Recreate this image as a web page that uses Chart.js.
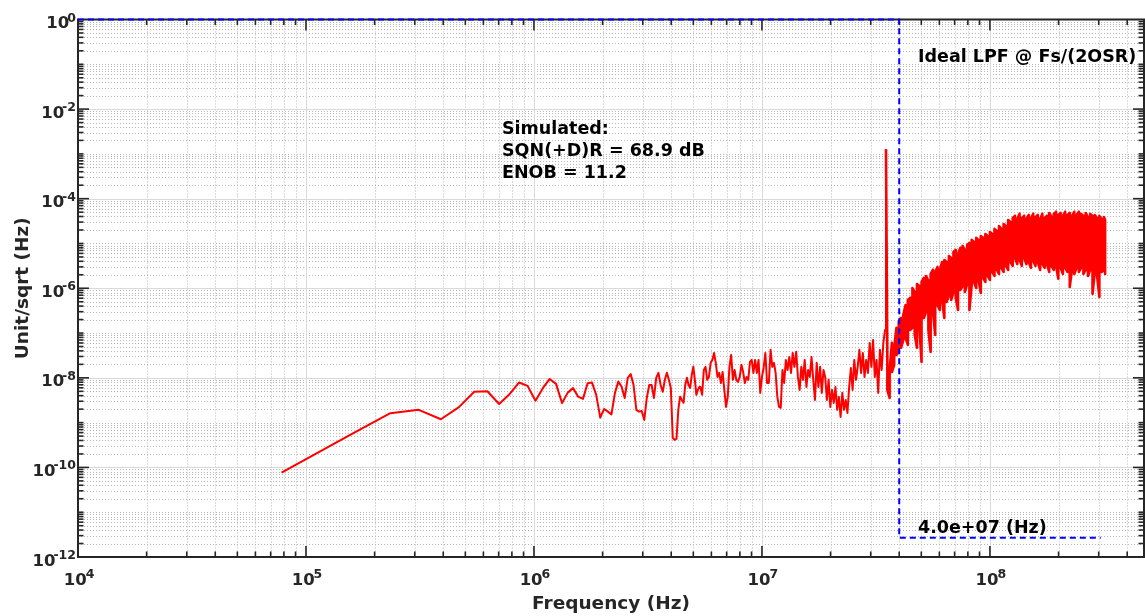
<!DOCTYPE html>
<html>
<head>
<meta charset="utf-8">
<title>Output spectrum</title>
<script src="https://cdn.jsdelivr.net/npm/chart.js@4.4.1/dist/chart.umd.min.js"></script>
<style>
  html, body { margin: 0; padding: 0; background: #fff; }
  canvas { display: block; }
</style>
</head>
<body>
<canvas id="psd" width="1145" height="616"></canvas>
<script>
// FFT bin spacing of the simulated output (Hz)
const binHz = 78125;

// first bins, one value per bin (dB re 1 Unit/sqrt(Hz))
const lowBins = [1, 2, 3, 4, 5, 6, 7, 8, 9, 10, 11, 12, 13, 14, 15, 16, 17, 18, 19, 20,
  21, 22, 23, 24, 25, 26, 27, 28, 29, 30, 31, 32, 33, 34, 35, 36, 37, 38, 39, 40,
  41, 42, 43, 44, 45, 46, 47, 48, 49, 50, 51, 52, 53, 54, 55, 56, 57, 58, 59, 60,
  61, 62, 63, 64, 65, 66, 67, 68];
const lowDb = [-202.3, -185.5, -175.8, -174.3, -178.5, -173.1, -166.2, -166.0, -171.7, -167.3,
  -162.1, -163.6, -170.2, -164.6, -160.5, -162.7, -171.3, -166.6, -164.6, -168.4,
  -169.4, -162.4, -162.1, -167.6, -177.8, -173.9, -175.1, -176.3, -166.7, -161.7,
  -163.9, -169.0, -160.0, -158.3, -163.2, -174.3, -175.1, -174.8, -178.8, -169.0,
  -163.2, -163.2, -169.0, -160.0, -157.8, -163.2, -166.2, -160.9, -157.7, -160.9,
  -164.5, -186.8, -187.7, -187.3, -174.3, -168.4, -169.9, -171.1, -163.2, -160.0,
  -163.2, -164.5, -158.7, -155.0, -160.9, -167.6, -165.4, -164.1];

// in-band noise from 5.4 MHz up to the tone
const midFreqMHz = [5.370, 5.464, 5.559, 5.656, 5.754, 5.854, 5.956, 6.060,
  6.166, 6.273, 6.383, 6.494, 6.607, 6.722, 6.839, 6.958,
  7.079, 7.202, 7.328, 7.455, 7.586, 7.718, 7.852, 7.989,
  8.128, 8.270, 8.414, 8.560, 8.710, 8.862, 9.016, 9.173,
  9.333, 9.496, 9.661, 9.829, 10.00, 10.17, 10.35, 10.53,
  10.72, 10.91, 11.10, 11.29, 11.48, 11.68, 11.88, 12.09,
  12.30, 12.51, 12.73, 12.95, 13.18, 13.41, 13.64, 13.88,
  14.13, 14.38, 14.63, 14.88, 15.14, 15.40, 15.67, 15.94,
  16.22, 16.50, 16.79, 17.08, 17.38, 17.68, 17.99, 18.30,
  18.62, 18.94, 19.27, 19.61, 19.95, 20.30, 20.65, 21.01,
  21.38, 21.75, 22.13, 22.52, 22.91, 23.31, 23.71, 24.13,
  24.55, 24.98, 25.41, 25.86, 26.30, 26.76, 27.22, 27.70,
  28.18, 28.67, 29.17, 29.68, 30.20, 30.73, 31.26, 31.81,
  32.36, 32.92, 33.50, 34.08, 34.67];
const midDb = [-164.1, -167.6, -156.5, -155.1, -160.9, -159.6, -153.3, -152.0,
  -148.9, -153.3, -159.6, -157.8, -162.3, -157.4, -165.4, -173.0,
  -168.5, -155.1, -149.8, -160.9, -156.5, -160.9, -161.8, -159.6,
  -154.2, -157.4, -162.3, -159.6, -160.9, -152.9, -152.0, -157.8,
  -152.0, -157.8, -152.0, -166.7, -159.6, -155.6, -148.9, -162.3,
  -162.3, -147.5, -155.1, -153.3, -157.8, -168.5, -173.0, -173.4,
  -156.5, -162.3, -152.0, -156.5, -150.7, -157.8, -148.9, -155.1,
  -148.4, -159.6, -165.4, -155.1, -160.9, -152.0, -164.1, -156.5,
  -159.6, -150.7, -160.9, -169.9, -153.3, -164.1, -155.1, -166.7,
  -156.5, -159.6, -169.9, -160.9, -173.0, -165.4, -171.2, -164.1,
  -174.3, -168.5, -177.5, -166.7, -174.3, -169.9, -175.7, -164.1,
  -155.6, -165.4, -152.0, -160.9, -155.1, -147.5, -157.8, -148.9,
  -159.6, -152.0, -157.8, -144.4, -155.1, -143.1, -159.6, -152.0,
  -166.7, -147.5, -156.5, -144.4, -138.6];

// test tone
const toneFreqMHz = 35.0;
const toneDb = -57.9;

// shaped noise above the tone: top and bottom of the trace at each frequency
const hfFreqMHz = [35.48, 36.31, 37.15, 38.02, 38.90, 39.81, 40.74, 41.69, 42.66, 43.65,
  44.67, 45.71, 46.77, 47.86, 48.98, 50.12, 51.29, 52.48, 53.70, 54.95,
  56.23, 57.54, 58.88, 60.26, 61.66, 63.10, 64.57, 66.07, 67.61, 69.18,
  70.79, 72.44, 74.13, 75.86, 77.62, 79.43, 81.28, 83.18, 85.11, 87.10,
  89.13, 91.20, 93.33, 95.50, 97.72, 100.0, 102.3, 104.7, 107.2, 109.6,
  112.2, 114.8, 117.5, 120.2, 123.0, 125.9, 128.8, 131.8, 134.9, 138.0,
  141.3, 144.5, 147.9, 151.4, 154.9, 158.5, 162.2, 166.0, 169.8, 173.8,
  177.8, 182.0, 186.2, 190.5, 195.0, 199.5, 204.2, 208.9, 213.8, 218.8,
  223.9, 229.1, 234.4, 239.9, 245.5, 251.2, 257.0, 263.0, 269.2, 275.4,
  281.8, 288.4, 295.1, 302.0, 309.0, 316.2, 320.0];
const hfHighDb = [-152.0, -156.5, -144.4, -146.6, -137.7, -135.0, -133.3, -131.9, -127.5, -125.2,
  -124.3, -119.9, -121.7, -118.1, -119.0, -117.2, -115.4, -114.5, -116.7, -113.6,
  -111.8, -112.7, -110.5, -111.8, -108.3, -107.4, -108.3, -105.6, -106.5, -103.8,
  -102.9, -104.7, -102.0, -101.1, -102.9, -100.7, -99.8, -98.4, -99.3, -97.5,
  -98.4, -96.7, -97.5, -95.8, -96.7, -94.9, -95.8, -93.5, -94.4, -92.2,
  -93.5, -91.3, -92.2, -89.5, -90.4, -88.6, -87.7, -89.1, -86.8, -88.6,
  -87.7, -89.1, -87.3, -88.6, -86.8, -88.2, -87.3, -89.1, -86.8, -88.6,
  -87.7, -86.4, -88.2, -86.8, -85.9, -87.3, -86.4, -87.7, -85.9, -87.3,
  -86.4, -87.7, -85.9, -87.3, -85.9, -86.8, -87.7, -86.4, -88.2, -86.8,
  -87.7, -87.3, -88.6, -87.7, -89.1, -88.2, -89.5];
const hfLowDb = [-165.4, -169.0, -157.4, -154.2, -149.8, -148.4, -146.6, -143.1, -142.2, -145.3,
  -138.6, -137.7, -140.8, -146.6, -136.4, -152.9, -133.3, -130.6, -138.6, -148.4,
  -130.6, -140.8, -127.5, -129.7, -125.2, -133.3, -126.1, -123.4, -125.2, -121.7,
  -124.3, -129.7, -120.8, -119.0, -121.7, -118.1, -129.7, -118.5, -117.2, -119.9,
  -116.3, -122.1, -115.4, -117.2, -114.5, -116.3, -112.7, -114.5, -111.8, -113.6,
  -110.9, -112.7, -110.0, -111.8, -108.3, -110.0, -106.5, -109.2, -107.4, -110.0,
  -106.5, -109.2, -108.3, -110.9, -107.8, -110.0, -108.3, -111.8, -109.2, -110.9,
  -109.2, -112.7, -110.0, -111.8, -110.0, -115.8, -110.9, -113.6, -110.9, -112.7,
  -119.4, -111.8, -113.6, -110.9, -112.7, -110.9, -113.6, -111.8, -114.5, -111.8,
  -122.5, -112.7, -114.5, -123.9, -112.7, -111.8, -113.6];

// ideal low-pass brick wall at Fs/(2OSR)
const lpfFreq = [1e4, 4e7, 4e7, 3.06e8];
const lpfMag = [1, 1, 2.7e-12, 2.7e-12];

// decades that carry a tick label
const xLabelExps = [4, 5, 6, 7, 8];
const yLabelExps = [0, -2, -4, -6, -8, -10, -12];

const fromDb = db => Math.pow(10, db / 20);

let spectrum = [];
lowBins.forEach((k, i) => spectrum.push({ x: k * binHz, y: fromDb(lowDb[i]) }));
midFreqMHz.forEach((f, i) => spectrum.push({ x: f * 1e6, y: fromDb(midDb[i]) }));
let tone = { x: toneFreqMHz * 1e6, y: fromDb(toneDb) };
spectrum.push(tone);

// walk top/bottom alternately so the dense part is one continuous trace
let hfTrace = [tone];
hfFreqMHz.forEach((f, i) => {
  let pair = [hfHighDb[i], hfLowDb[i]];
  if (i % 2) pair.reverse();
  pair.forEach(db => hfTrace.push({ x: f * 1e6, y: fromDb(db) }));
});

let lpf = lpfFreq.map((f, i) => ({ x: f, y: lpfMag[i] }));

const FONT = '"DejaVu Sans", Verdana, sans-serif';
const AXIS_COLOR = '#262626';

function seg(ctx, x1, y1, x2, y2) {
  ctx.beginPath();
  ctx.moveTo(x1, y1);
  ctx.lineTo(x2, y2);
  ctx.stroke();
}
const snap = v => Math.round(v) + 0.5;

// matlab-like box: dotted minor grid, solid major grid, inward ticks on all sides
const frame = {
  id: 'frame',
  beforeDatasetsDraw(chart) {
    const { ctx, chartArea: a, scales: { x, y } } = chart;
    let xMinor = [], xMajor = [], yMinor = [], yMajor = [];
    for (let e = 4; e <= 8; e++) {
      if (e > 4) xMajor.push(x.getPixelForValue(Math.pow(10, e)));
      for (let m = 2; m <= 9; m++) {
        if (m * Math.pow(10, e) < x.max) xMinor.push(x.getPixelForValue(m * Math.pow(10, e)));
      }
    }
    for (let e = -12; e < 0; e++) {
      if (e > -12) (e % 2 === 0 ? yMajor : yMinor).push(y.getPixelForValue(Math.pow(10, e)));
      for (let m = 2; m <= 9; m++) yMinor.push(y.getPixelForValue(m * Math.pow(10, e)));
    }

    ctx.save();
    ctx.lineWidth = 1;
    ctx.strokeStyle = '#b8b8b8';
    ctx.setLineDash([1, 2]);
    xMinor.forEach(px => seg(ctx, snap(px), a.top, snap(px), a.bottom));
    yMinor.forEach(py => seg(ctx, a.left, snap(py), a.right, snap(py)));
    ctx.setLineDash([]);
    ctx.strokeStyle = '#d9d9d9';
    xMajor.forEach(px => seg(ctx, snap(px), a.top, snap(px), a.bottom));
    yMajor.forEach(py => seg(ctx, a.left, snap(py), a.right, snap(py)));

    ctx.strokeStyle = AXIS_COLOR;
    ctx.lineWidth = 1.6;
    const tick = (list, len, vertical) => list.forEach(p => {
      if (vertical) {
        seg(ctx, p, a.bottom, p, a.bottom - len);
        seg(ctx, p, a.top, p, a.top + len);
      } else {
        seg(ctx, a.left, p, a.left + len, p);
        seg(ctx, a.right, p, a.right - len, p);
      }
    });
    tick(xMinor, 5.5, true);
    tick(xMajor, 11, true);
    tick(yMinor, 5.5, false);
    tick(yMajor, 11, false);
    ctx.lineWidth = 2;
    ctx.strokeRect(a.left, a.top, a.right - a.left, a.bottom - a.top);
    ctx.restore();
  },
  afterDraw(chart) {
    const { ctx, chartArea: a, scales: { x, y } } = chart;
    const baseFont = 'bold 16.5px ' + FONT;
    const expFont = 'bold 12.5px ' + FONT;
    ctx.save();
    ctx.fillStyle = AXIS_COLOR;
    ctx.textAlign = 'left';
    ctx.textBaseline = 'alphabetic';

    xLabelExps.forEach(e => {
      const px = x.getPixelForValue(Math.pow(10, e));
      ctx.font = baseFont;
      const wb = ctx.measureText('10').width;
      ctx.font = expFont;
      const we = ctx.measureText(String(e)).width;
      const left = px + 1 - (wb + we - 1) / 2;
      ctx.font = baseFont;
      ctx.fillText('10', left, 585);
      ctx.font = expFont;
      ctx.fillText(String(e), left + wb - 1, 578);
    });

    yLabelExps.forEach(e => {
      const py = y.getPixelForValue(Math.pow(10, e));
      ctx.font = expFont;
      const we = ctx.measureText(String(e)).width;
      ctx.textAlign = 'right';
      ctx.fillText(String(e), 76, py + 2);
      ctx.font = baseFont;
      ctx.fillText('10', 76 - we + 2, py + 8.5);
    });

    // axis titles
    ctx.font = 'bold 18.5px ' + FONT;
    ctx.textAlign = 'center';
    ctx.fillText('Frequency (Hz)', (a.left + a.right) / 2, 609);
    ctx.translate(28, (a.top + a.bottom) / 2);
    ctx.rotate(-Math.PI / 2);
    ctx.fillText('Unit/sqrt (Hz)', 0, 0);
    ctx.restore();

    // annotations
    ctx.save();
    ctx.fillStyle = '#000';
    ctx.font = 'bold 17.5px ' + FONT;
    ctx.textAlign = 'left';
    ctx.textBaseline = 'alphabetic';
    ctx.fillText('Simulated:', 502, 134);
    ctx.fillText('SQN(+D)R = 68.9 dB', 502, 156);
    ctx.fillText('ENOB = 11.2', 502, 178);
    ctx.fillText('Ideal LPF @ Fs/(2OSR)', 918, 61.5);
    ctx.fillText('4.0e+07 (Hz)', 918, 533);
    ctx.restore();
  }
};

new Chart(document.getElementById('psd'), {
  type: 'line',
  data: {
    datasets: [
      {
        data: lpf,
        borderColor: '#0000ff',
        borderWidth: 2,
        borderDash: [6, 4],
        pointRadius: 0,
        clip: false,
        order: 0
      },
      {
        data: spectrum,
        borderColor: '#ff0000',
        borderWidth: 2,
        borderJoinStyle: 'round',
        pointRadius: 0,
        tension: 0,
        order: 1
      },
      {
        data: hfTrace,
        borderColor: '#ff0000',
        borderWidth: 2.6,
        borderJoinStyle: 'round',
        pointRadius: 0,
        tension: 0,
        order: 2
      }
    ]
  },
  options: {
    responsive: false,
    animation: false,
    devicePixelRatio: 1,
    layout: { padding: { left: 78, right: 1, top: 19.5, bottom: 59 } },
    scales: {
      x: { type: 'logarithmic', min: 1e4, max: 4.74e8, display: false },
      y: { type: 'logarithmic', min: 1e-12, max: 1, display: false }
    },
    plugins: {
      legend: { display: false },
      tooltip: { enabled: false }
    }
  },
  plugins: [frame]
});
</script>
</body>
</html>
